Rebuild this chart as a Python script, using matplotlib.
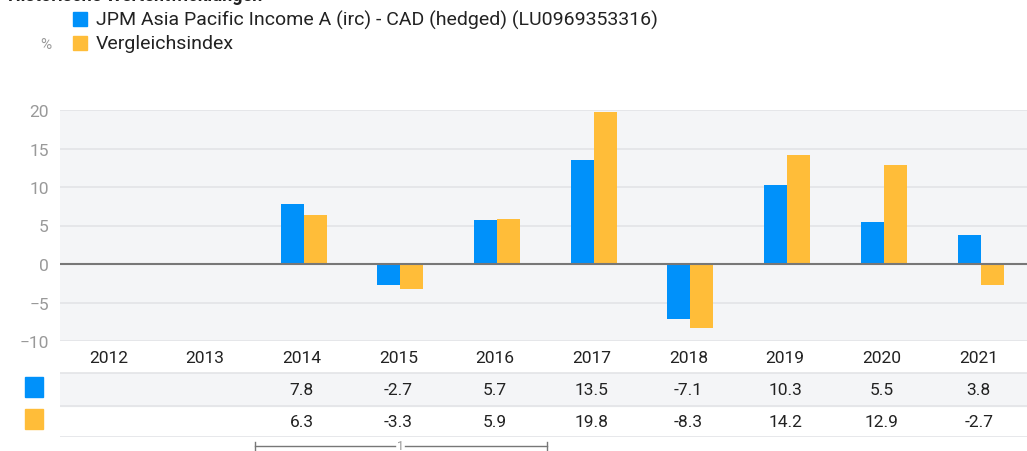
import numpy as np
import matplotlib.pyplot as plt
from matplotlib.patches import Rectangle
from matplotlib.lines import Line2D

plt.rcParams['font.family'] = ['Roboto', 'DejaVu Sans']

# --- data ---
years = ["2012", "2013", "2014", "2015", "2016", "2017", "2018", "2019", "2020", "2021"]
fund = [np.nan, np.nan, 7.8, -2.7, 5.7, 13.5, -7.1, 10.3, 5.5, 3.8]
index = [np.nan, np.nan, 6.3, -3.3, 5.9, 19.8, -8.3, 14.2, 12.9, -2.7]
fund_name = "JPM Asia Pacific Income A (irc) - CAD (hedged) (LU0969353316)"
index_name = "Vergleichsindex"
title = "Historische Wertentwicklungen"

BLUE = "#0091fa"
YELLOW = "#ffbd39"
BG = "#f4f5f7"
GRID = "#e3e4e7"
TXT = "#222222"
GREY = "#999999"

W, H = 1027, 452
fig = plt.figure(figsize=(W / 100, H / 100), dpi=100)

def fx(px):
    return px / W

def fy(py):
    return 1 - py / H

# --- main bars ---
ax = fig.add_axes([fx(60), fy(342), fx(1027 - 60), (342 - 111) / H])
ax.set_facecolor(BG)
x = np.arange(len(years))
bw = 0.238
ax.bar(x - bw / 2 + 0.02, fund, bw, color=BLUE, zorder=3)
ax.bar(x + bw / 2 + 0.02, index, bw, color=YELLOW, zorder=3)
ax.set_xlim(-0.5, len(years) - 0.5)
ax.set_ylim(-10, 20)
ax.set_yticks([-10, -5, 0, 5, 10, 15, 20])
ax.tick_params(axis='y', length=0, labelsize=12.5, labelcolor=GREY, pad=8)
ax.set_xticks([])
ax.grid(axis='y', color=GRID, linewidth=1.2, zorder=0)
ax.axhline(0, color="#777777", linewidth=1.5, zorder=4)
for s in ax.spines.values():
    s.set_visible(False)

# --- table below ---
tb = fig.add_axes([fx(60), fy(438), fx(1027 - 60), (438 - 342) / H])
tb.set_xlim(-0.5, len(years) - 0.5)
tb.set_ylim(0, 96)
tb.axis('off')
tb.add_patch(Rectangle((-0.5, 31), len(years), 33, color=BG, zorder=0))
for yl in [0, 31, 64]:
    tb.axhline(yl, color=GRID, linewidth=1.2)
for i, yr in enumerate(years):
    tb.text(i, 79, yr, ha='center', va='center', fontsize=12.5, color=TXT)
    if not np.isnan(fund[i]):
        tb.text(i, 47, f"{fund[i]:.1f}", ha='center', va='center', fontsize=12.5, color=TXT)
    if not np.isnan(index[i]):
        tb.text(i, 15, f"{index[i]:.1f}", ha='center', va='center', fontsize=12.5, color=TXT)

fig.add_artist(Rectangle((fx(25), fy(398)), fx(18), 20 / H, color=BLUE, transform=fig.transFigure))
fig.add_artist(Rectangle((fx(25), fy(430)), fx(18), 20 / H, color=YELLOW, transform=fig.transFigure))

# --- legend / header ---
fig.text(fx(8), fy(1), title, fontsize=13, fontweight='bold', color=TXT, va='baseline')
fig.add_artist(Rectangle((fx(73), fy(27)), fx(14), 14 / H, color=BLUE, transform=fig.transFigure))
fig.add_artist(Rectangle((fx(73), fy(51)), fx(14), 14 / H, color=YELLOW, transform=fig.transFigure))
fig.text(fx(96), fy(20), fund_name, fontsize=14, color=TXT, va='center')
fig.text(fx(96), fy(44), index_name, fontsize=14, color=TXT, va='center')
fig.text(fx(40), fy(45), "%", fontsize=11, color=GREY, va='center')

# --- slider ---
sc = "#777777"
fig.add_artist(Line2D([fx(255), fx(395)], [fy(447), fy(447)], color=sc, lw=1))
fig.add_artist(Line2D([fx(405), fx(547)], [fy(447), fy(447)], color=sc, lw=1))
fig.add_artist(Line2D([fx(255), fx(255)], [fy(443), fy(451)], color=sc, lw=1))
fig.add_artist(Line2D([fx(547), fx(547)], [fy(443), fy(451)], color=sc, lw=1))
fig.text(fx(400), fy(447), "1", fontsize=9, color=GREY, ha='center', va='center')

fig.savefig("out.png", dpi=100)
